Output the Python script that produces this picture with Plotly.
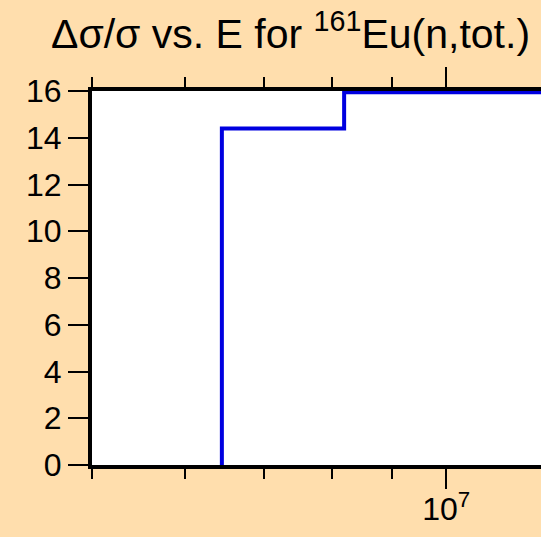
import math
import plotly.graph_objects as go

# data (energy in eV, relative uncertainty in %)
energy = [6.447e6, 6.447e6, 8.19e6, 2.0e7]
rel_unc = [0.0, 14.4, 15.95, 15.95]

x_major_vals = [1e7]
x_major_text = ["10<sup>7</sup>"]
x_minor_vals = [5e6, 6e6, 7e6, 8e6, 9e6]
y_tick_vals = [0, 2, 4, 6, 8, 10, 12, 14, 16]

W, H = 541, 537
L, R, T, B = 92, 0, 91, 72
FONT = "Liberation Sans, Arial, Helvetica, sans-serif"

fig = go.Figure()
fig.add_trace(go.Scatter(
    x=energy, y=rel_unc, mode="lines",
    line=dict(color="#0000E0", width=4, shape="hv"),
    showlegend=False, hoverinfo="skip",
))

fig.update_layout(
    width=W, height=H, autosize=False,
    margin=dict(l=L, r=R, t=T, b=B, pad=0),
    paper_bgcolor="#FFDEAD", plot_bgcolor="white",
    font=dict(family=FONT, color="black"),
    xaxis=dict(
        type="log",
        range=[math.log10(5e6), math.log10(1.204e7)],
        showline=True, linewidth=4, linecolor="black", mirror="ticks",
        ticks="outside", ticklen=20, tickwidth=2, tickcolor="black",
        tickvals=x_major_vals, ticktext=x_major_text,
        tickfont=dict(size=32, family=FONT),
        ticklabelstandoff=-7,
        showgrid=False, zeroline=False,
        minor=dict(tickvals=x_minor_vals, ticks="outside", ticklen=10,
                   tickwidth=2, tickcolor="black", showgrid=False),
    ),
    yaxis=dict(
        range=[0, 16],
        showline=True, linewidth=4, linecolor="black", mirror=False,
        ticks="outside", ticklen=20, tickwidth=2, tickcolor="black",
        tickvals=y_tick_vals,
        tickfont=dict(size=32, family=FONT),
        showgrid=False, zeroline=False,
    ),
)

plot_w = W - L - R
plot_h = H - T - B
fig.add_annotation(
    xref="paper", yref="paper",
    x=(49 - L) / plot_w, y=1 + (T - 31) / plot_h,
    xanchor="left", yanchor="middle",
    text="\u0394\u03c3/\u03c3 vs. E for <sup>161</sup>Eu(n,tot.)",
    showarrow=False, font=dict(size=41, family=FONT, color="black"),
)

fig.write_html(
    "out.html",
    config={"displayModeBar": False},
    post_script="document.body.style.margin='0';document.body.style.overflow='hidden';"
                "document.documentElement.style.overflow='hidden';",
)
